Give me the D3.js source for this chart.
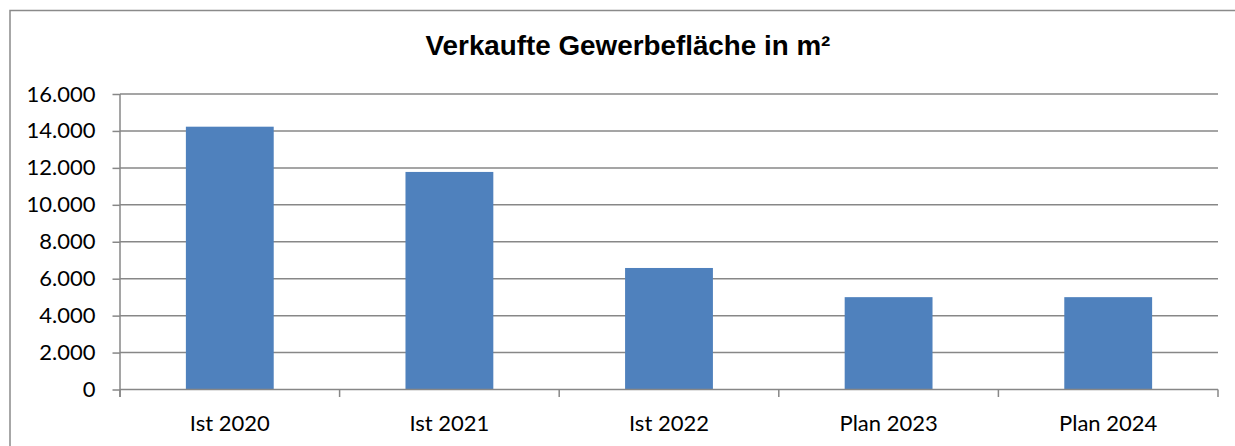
<!DOCTYPE html>
<html>
<head>
<meta charset="utf-8">
<script src="https://cdn.jsdelivr.net/npm/d3@7"></script>
<style>
  html, body { margin: 0; padding: 0; background: #fff; overflow: hidden; }
  svg { display: block; }
</style>
</head>
<body>
<svg id="chart" width="1235" height="446"></svg>
<script>
// Sold commercial area per year (m²)
const categories = ["Ist 2020", "Ist 2021", "Ist 2022", "Plan 2023", "Plan 2024"];
const values = [14230, 11780, 6580, 5000, 5000];
const yTicks = [0, 2000, 4000, 6000, 8000, 10000, 12000, 14000, 16000];
const title = "Verkaufte Gewerbefläche in m²";

const svg = d3.select("#chart");
const plot = { left: 120, right: 1218, top: 94, bottom: 389.5 };

const gridColor = "#878787";
const barColor = "#4F81BD";
const labelFont = "Lato, 'Open Sans', sans-serif";

// outer chart frame (left and top edges fall inside the canvas)
svg.append("path")
  .attr("d", "M10,460 V10.5 H1250")
  .attr("fill", "none")
  .attr("stroke", "#8a8a8a")
  .attr("stroke-width", 1.5);

// title
svg.append("text")
  .attr("x", 628).attr("y", 55)
  .attr("text-anchor", "middle")
  .attr("font-family", "'Liberation Sans', Arial, sans-serif")
  .attr("font-weight", "bold")
  .attr("font-size", 27.8)
  .attr("fill", "#000")
  .text(title);

const x = d3.scaleBand()
  .domain(categories)
  .range([plot.left, plot.right])
  .paddingInner(0.6)
  .paddingOuter(0.3);

const y = d3.scaleLinear()
  .domain([0, 16000])
  .range([plot.bottom, plot.top]);

const fmt = d3.formatLocale({ decimal: ",", thousands: ".", grouping: [3], currency: ["", " €"] }).format(",.0f");

// horizontal gridlines
svg.append("g")
  .selectAll("line")
  .data(yTicks.filter(d => d > 0))
  .join("line")
  .attr("x1", plot.left).attr("x2", plot.right)
  .attr("y1", d => y(d)).attr("y2", d => y(d))
  .attr("stroke", gridColor)
  .attr("stroke-width", 1.5);

// y axis
const yAxis = svg.append("g")
  .attr("transform", `translate(${plot.left},0)`)
  .call(d3.axisLeft(y).tickValues(yTicks).tickFormat(fmt).tickSize(7.5).tickPadding(17));
yAxis.select(".domain").remove();
yAxis.selectAll(".tick line").attr("stroke", gridColor).attr("stroke-width", 1.5);
yAxis.selectAll(".tick text")
  .attr("font-family", labelFont)
  .attr("font-size", 22)
  .attr("fill", "#000");

// vertical axis line
svg.append("line")
  .attr("x1", plot.left).attr("x2", plot.left)
  .attr("y1", plot.top).attr("y2", plot.bottom + 7.5)
  .attr("stroke", gridColor)
  .attr("stroke-width", 1.5);

// bars
svg.append("g")
  .selectAll("rect")
  .data(values)
  .join("rect")
  .attr("x", (d, i) => x(categories[i]))
  .attr("width", x.bandwidth())
  .attr("y", d => y(d))
  .attr("height", d => y(0) - y(d))
  .attr("fill", barColor);

// x axis: baseline and category boundary ticks
const boundaries = d3.range(categories.length + 1).map(i => plot.left + i * (plot.right - plot.left) / categories.length);
svg.append("line")
  .attr("x1", plot.left).attr("x2", plot.right)
  .attr("y1", plot.bottom).attr("y2", plot.bottom)
  .attr("stroke", gridColor)
  .attr("stroke-width", 1.5);
svg.append("g")
  .selectAll("line")
  .data(boundaries)
  .join("line")
  .attr("x1", d => d).attr("x2", d => d)
  .attr("y1", plot.bottom).attr("y2", plot.bottom + 7.5)
  .attr("stroke", gridColor)
  .attr("stroke-width", 1.5);

// category labels
svg.append("g")
  .selectAll("text")
  .data(categories)
  .join("text")
  .attr("x", d => x(d) + x.bandwidth() / 2)
  .attr("y", 431)
  .attr("text-anchor", "middle")
  .attr("font-family", labelFont)
  .attr("font-size", 22)
  .attr("fill", "#000")
  .text(d => d);
</script>
</body>
</html>
